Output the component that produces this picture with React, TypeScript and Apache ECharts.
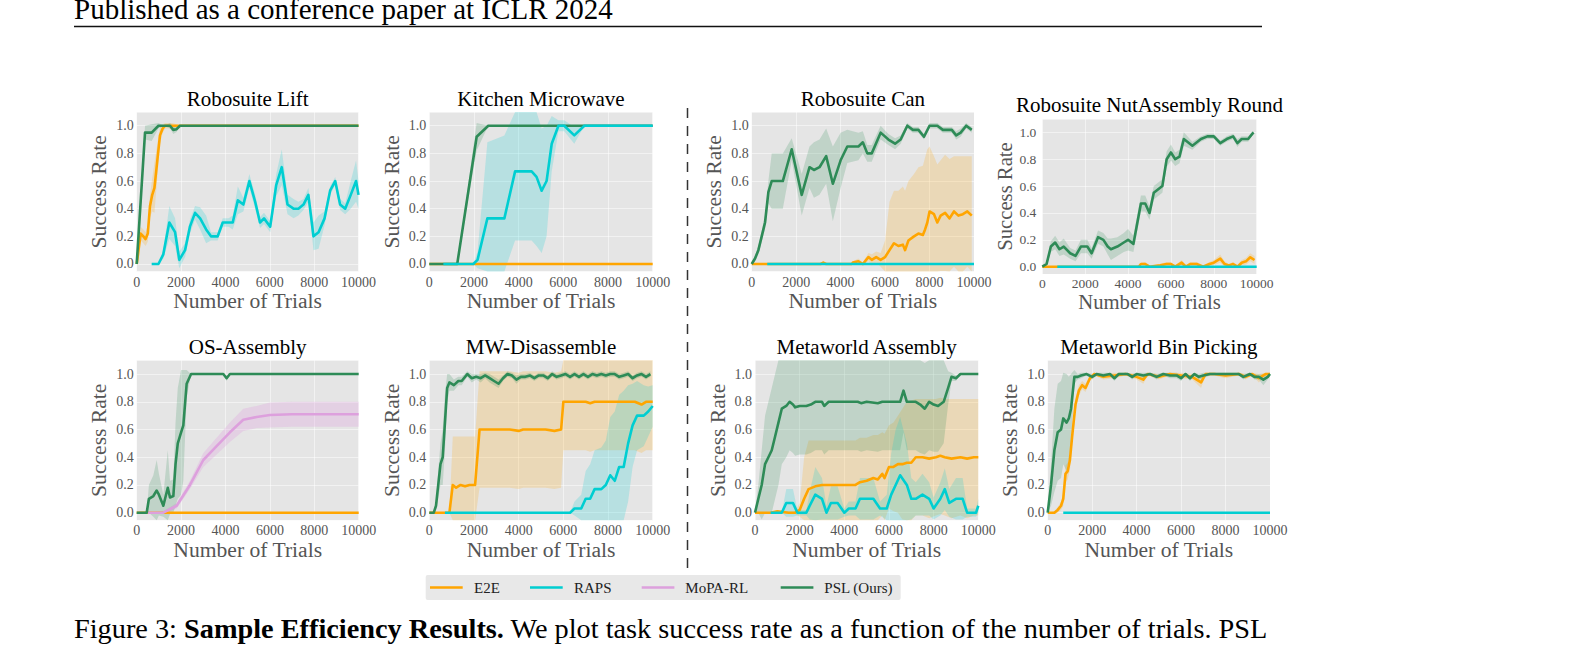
import { useEffect, useRef } from "react";
import * as echarts from "echarts";

// [trials, mean success rate, std across seeds]
type Pt = [number, number, number];

const PANEL_TITLES = [
  "Robosuite Lift",
  "Kitchen Microwave",
  "Robosuite Can",
  "Robosuite NutAssembly Round",
  "OS-Assembly",
  "MW-Disassemble",
  "Metaworld Assembly",
  "Metaworld Bin Picking",
];
const X_NAME = "Number of Trials";
const Y_NAME = "Success Rate";
const X_MIN = 0;
const X_MAX = 10000;
const X_STEP = 2000;
const Y_MIN = -0.055;
const Y_MAX = 1.1;

const METHODS = ["E2E", "RAPS", "MoPA-RL", "PSL (Ours)"];
const METHOD_COLORS: Record<string, string> = {
  E2E: "#FFA500",
  RAPS: "#00CED1",
  "MoPA-RL": "#DDA0DD",
  "PSL (Ours)": "#2E8B57",
};
const BAND_COLORS: Record<string, string> = {
  E2E: "rgba(255,165,0,0.2)",
  RAPS: "rgba(0,206,209,0.2)",
  "MoPA-RL": "rgba(221,160,221,0.3)",
  "PSL (Ours)": "rgba(46,139,87,0.2)",
};
// painting order inside each panel
const DRAW_ORDER = ["E2E", "MoPA-RL", "PSL (Ours)", "RAPS"];

// ---------- Robosuite Lift ----------
const LIFT_E2E: Pt[] = [
  [0, 0, 0], [180, 0.22, 0.05], [300, 0.2, 0.05], [400, 0.18, 0.05], [500, 0.22, 0.06],
  [600, 0.42, 0.08], [700, 0.5, 0.12], [800, 0.55, 0.18], [930, 0.75, 0.12], [1050, 0.93, 0.06],
  [1170, 0.98, 0.03], [1280, 1, 0.02], [1600, 1, 0.02], [2000, 1, 0], [10000, 1, 0],
];
const LIFT_RAPS: Pt[] = [
  [675, 0, 0], [980, 0, 0], [1200, 0.07, 0.03], [1470, 0.3, 0.12], [1730, 0.23, 0.1],
  [1920, 0.03, 0.06], [2180, 0.1, 0.05], [2400, 0.27, 0.05], [2630, 0.37, 0.05], [2860, 0.33, 0.08],
  [3130, 0.25, 0.1], [3350, 0.2, 0.03], [3650, 0.2, 0.03], [3880, 0.3, 0.03], [4140, 0.3, 0.03],
  [4330, 0.3, 0.05], [4560, 0.46, 0.1], [4810, 0.43, 0.05], [5080, 0.6, 0.05], [5340, 0.45, 0.05],
  [5560, 0.3, 0.04], [5740, 0.33, 0.04], [6020, 0.27, 0.04], [6290, 0.57, 0.08], [6540, 0.7, 0.13],
  [6800, 0.43, 0.07], [7070, 0.4, 0.07], [7290, 0.4, 0.05], [7520, 0.43, 0.04], [7740, 0.5, 0.05],
  [7970, 0.2, 0.1], [8200, 0.23, 0.12], [8470, 0.33, 0.05], [8720, 0.53, 0.03], [8950, 0.6, 0.03],
  [9170, 0.43, 0.04], [9400, 0.4, 0.04], [9650, 0.5, 0.1], [9890, 0.6, 0.15], [10000, 0.5, 0.1],
];
const LIFT_PSL: Pt[] = [
  [0, 0, 0], [375, 0.95, 0.05], [675, 0.95, 0.06], [980, 1, 0.02], [1250, 1, 0],
  [1500, 1, 0.02], [1650, 0.97, 0.03], [1800, 0.975, 0.02], [1950, 1, 0], [10000, 1, 0],
];

// ---------- Kitchen Microwave ----------
const KM_E2E: Pt[] = [[0, 0, 0], [10000, 0, 0]];
const KM_RAPS: Pt[] = [
  [630, 0, 0], [1970, 0, 0], [2160, 0.03, 0.06], [2600, 0.33, 0.55], [3360, 0.33, 0.6],
  [3840, 0.67, 0.5], [4580, 0.67, 0.5], [4800, 0.63, 0.5], [5030, 0.53, 0.45], [5250, 0.6, 0.4],
  [5480, 0.87, 0.2], [5780, 1, 0.04], [6040, 1, 0.04], [6490, 0.93, 0.06], [6940, 1, 0], [10000, 1, 0],
];
const KM_PSL: Pt[] = [[0, 0, 0], [1250, 0, 0], [2120, 0.92, 0.1], [2640, 1, 0], [10000, 1, 0]];

// ---------- Robosuite Can ----------
const CAN_E2E: Pt[] = [
  [0, 0, 0], [700, 0, 0], [3100, 0, 0], [3220, 0.01, 0.01], [3350, 0, 0], [4500, 0, 0],
  [4550, 0.01, 0.01], [4800, 0.02, 0.02], [5000, 0, 0.01], [5250, 0.05, 0.03], [5400, 0.03, 0.04],
  [5600, 0.05, 0.04], [5800, 0.03, 0.05], [6000, 0.05, 0.12], [6200, 0.1, 0.35], [6400, 0.15, 0.38],
  [6600, 0.13, 0.4], [6800, 0.14, 0.42], [6900, 0.1, 0.43], [7050, 0.17, 0.43], [7300, 0.2, 0.45],
  [7500, 0.22, 0.48], [7700, 0.21, 0.5], [7800, 0.25, 0.52], [7900, 0.3, 0.53], [8000, 0.38, 0.47],
  [8200, 0.36, 0.42], [8350, 0.3, 0.42], [8500, 0.35, 0.4], [8700, 0.37, 0.42], [8900, 0.33, 0.43],
  [9100, 0.38, 0.4], [9300, 0.35, 0.43], [9500, 0.36, 0.42], [9700, 0.38, 0.4], [9900, 0.35, 0.43],
];
const CAN_RAPS: Pt[] = [[700, 0, 0], [10000, 0, 0]];
const CAN_PSL: Pt[] = [
  [0, 0, 0], [150, 0.04, 0.02], [300, 0.1, 0.03], [450, 0.2, 0.04], [600, 0.3, 0.05],
  [750, 0.52, 0.08], [900, 0.6, 0.2], [1400, 0.6, 0.2], [1800, 0.83, 0.08], [2250, 0.5, 0.15],
  [2600, 0.7, 0.15], [2800, 0.68, 0.2], [3050, 0.7, 0.2], [3350, 0.78, 0.2], [3650, 0.58, 0.27],
  [4000, 0.75, 0.2], [4300, 0.85, 0.12], [4800, 0.85, 0.1], [5000, 0.88, 0.08], [5200, 0.8, 0.06],
  [5400, 0.8, 0.06], [5800, 0.95, 0.05], [6150, 0.9, 0.04], [6450, 0.87, 0.04], [6700, 0.9, 0.03],
  [7000, 1, 0.02], [7250, 0.97, 0.02], [7500, 0.97, 0.02], [7750, 0.92, 0.02], [8000, 1, 0.02],
  [8350, 1, 0.02], [8600, 0.97, 0.02], [9000, 0.97, 0.02], [9200, 0.93, 0.03], [9400, 0.95, 0.03],
  [9650, 1, 0.02], [9900, 0.97, 0.02],
];

// ---------- Robosuite NutAssembly Round ----------
const NUT_E2E: Pt[] = [
  [0, 0, 0], [700, 0, 0], [4500, 0, 0], [4600, 0.02, 0.01], [4800, 0.02, 0.015], [5000, 0, 0.01],
  [5500, 0.01, 0.01], [5800, 0.02, 0.015], [6000, 0.02, 0.015], [6200, 0, 0.01], [6500, 0.03, 0.02],
  [6700, 0, 0.01], [6900, 0.02, 0.015], [7200, 0.02, 0.015], [7500, 0, 0.01], [7800, 0.02, 0.015],
  [8000, 0.03, 0.02], [8300, 0.06, 0.03], [8500, 0.02, 0.02], [8700, 0.01, 0.01], [8900, 0.02, 0.015],
  [9100, 0, 0.01], [9300, 0.03, 0.02], [9500, 0.04, 0.025], [9700, 0.07, 0.03], [9900, 0.05, 0.03],
];
const NUT_RAPS: Pt[] = [[700, 0, 0], [10000, 0, 0]];
const NUT_PSL: Pt[] = [
  [0, 0, 0], [200, 0.02, 0.02], [400, 0.15, 0.04], [600, 0.18, 0.05], [800, 0.13, 0.05],
  [1000, 0.15, 0.06], [1300, 0.1, 0.04], [1550, 0.08, 0.04], [1800, 0.15, 0.05], [2100, 0.15, 0.05],
  [2300, 0.1, 0.04], [2600, 0.22, 0.05], [2850, 0.2, 0.05], [3050, 0.15, 0.06], [3200, 0.13, 0.08],
  [3500, 0.15, 0.07], [3800, 0.18, 0.07], [4000, 0.2, 0.08], [4250, 0.17, 0.06], [4400, 0.3, 0.06],
  [4600, 0.47, 0.06], [4800, 0.47, 0.06], [5000, 0.4, 0.05], [5200, 0.55, 0.05], [5600, 0.6, 0.05],
  [5800, 0.8, 0.06], [6000, 0.85, 0.06], [6200, 0.8, 0.05], [6400, 0.82, 0.05], [6600, 0.95, 0.05],
  [7000, 0.9, 0.03], [7400, 0.95, 0.02], [7700, 0.97, 0.02], [8000, 0.97, 0.02], [8300, 0.92, 0.02],
  [8600, 0.95, 0.02], [8900, 0.97, 0.02], [9100, 0.92, 0.03], [9300, 0.95, 0.02], [9600, 0.95, 0.02],
  [9850, 1, 0.01],
];

// ---------- OS-Assembly ----------
const OS_E2E: Pt[] = [[0, 0, 0], [10000, 0, 0]];
const OS_MOPA: Pt[] = [
  [500, 0, 0], [1200, 0, 0.01], [1800, 0.05, 0.02], [2400, 0.2, 0.03], [3000, 0.38, 0.05],
  [3600, 0.48, 0.06], [4200, 0.58, 0.07], [4800, 0.67, 0.08], [5400, 0.69, 0.08], [6000, 0.705, 0.09],
  [7000, 0.71, 0.09], [10000, 0.71, 0.09],
];
const OS_PSL: Pt[] = [
  [0, 0, 0], [450, 0, 0], [550, 0.1, 0.1], [750, 0.12, 0.15], [900, 0.16, 0.22], [1000, 0.13, 0.15],
  [1200, 0.05, 0.08], [1400, 0.18, 0.27], [1500, 0.11, 0.12], [1650, 0.12, 0.12], [1750, 0.35, 0.3],
  [1850, 0.5, 0.4], [2000, 0.58, 0.45], [2100, 0.63, 0.4], [2250, 0.93, 0.1], [2450, 1, 0],
  [3900, 1, 0], [4050, 0.97, 0.02], [4200, 1, 0], [10000, 1, 0],
];

// ---------- MW-Disassemble ----------
const MWD_E2E: Pt[] = [
  [0, 0, 0], [900, 0, 0], [1050, 0.2, 0.35], [1200, 0.18, 0.37], [1400, 0.2, 0.35], [1600, 0.19, 0.36],
  [1800, 0.2, 0.35], [2050, 0.2, 0.35], [2250, 0.6, 0.42], [3000, 0.6, 0.42], [3600, 0.6, 0.42],
  [4000, 0.59, 0.42], [4200, 0.6, 0.42], [4800, 0.6, 0.42], [5200, 0.6, 0.42], [5600, 0.59, 0.42],
  [5900, 0.6, 0.42], [6000, 0.8, 0.35], [7000, 0.8, 0.35], [7200, 0.79, 0.35], [7400, 0.8, 0.35],
  [9200, 0.8, 0.35], [9500, 0.78, 0.35], [9700, 0.8, 0.35], [10000, 0.8, 0.35],
];
const MWD_RAPS: Pt[] = [
  [700, 0, 0], [6300, 0, 0], [6500, 0.03, 0.05], [6800, 0.03, 0.1], [7000, 0.1, 0.2], [7200, 0.1, 0.25],
  [7400, 0.17, 0.28], [7700, 0.17, 0.3], [7900, 0.2, 0.32], [8100, 0.27, 0.42], [8300, 0.23, 0.5],
  [8500, 0.33, 0.52], [8700, 0.33, 0.55], [8900, 0.5, 0.42], [9100, 0.63, 0.3], [9300, 0.7, 0.25],
  [9600, 0.7, 0.22], [9800, 0.73, 0.18], [10000, 0.77, 0.15],
];
const MWD_PSL: Pt[] = [
  [0, 0, 0], [200, 0, 0], [300, 0.05, 0.03], [400, 0.2, 0.1], [500, 0.35, 0.15], [600, 0.4, 0.2],
  [700, 0.65, 0.2], [800, 0.9, 0.1], [900, 0.94, 0.06], [1100, 0.92, 0.04], [1300, 0.95, 0.03],
  [1450, 0.95, 0.03], [1700, 1, 0.02], [1900, 0.97, 0.03], [2100, 0.98, 0.02], [2300, 0.97, 0.03],
  [2500, 0.99, 0.02], [2700, 0.97, 0.03], [2900, 0.95, 0.03], [3100, 0.93, 0.03], [3300, 0.97, 0.02],
  [3500, 1, 0.02], [3700, 0.99, 0.02], [3900, 0.96, 0.03], [4100, 0.98, 0.02], [4300, 0.98, 0.02],
  [4500, 0.99, 0.02], [4700, 0.97, 0.02], [4900, 0.99, 0.02], [5100, 0.99, 0.02], [5300, 0.97, 0.02],
  [5500, 1, 0.02], [5700, 0.98, 0.02], [5900, 0.99, 0.02], [6100, 1, 0.02], [6300, 0.98, 0.02],
  [6500, 1, 0.02], [6700, 0.98, 0.02], [6900, 1, 0.02], [7100, 0.98, 0.02], [7300, 1, 0.02],
  [7500, 0.99, 0.02], [7700, 1, 0.02], [7900, 0.99, 0.02], [8100, 1, 0.02], [8300, 1, 0.02],
  [8500, 0.98, 0.02], [8700, 0.99, 0.02], [8900, 1, 0.02], [9100, 0.97, 0.02], [9300, 0.99, 0.02],
  [9500, 1, 0.02], [9700, 0.98, 0.02], [9900, 1, 0.02],
];

// ---------- Metaworld Assembly ----------
const MWA_E2E: Pt[] = [
  [0, 0, 0], [700, 0, 0], [1000, 0.01, 0.01], [1500, 0, 0.01], [1800, 0, 0.01], [2000, 0.02, 0.05],
  [2200, 0.1, 0.3], [2400, 0.17, 0.35], [2700, 0.19, 0.33], [3000, 0.2, 0.32], [3500, 0.2, 0.32],
  [4200, 0.2, 0.32], [4500, 0.2, 0.32], [4700, 0.22, 0.32], [5000, 0.23, 0.31], [5300, 0.25, 0.31],
  [5500, 0.24, 0.32], [5700, 0.28, 0.3], [5800, 0.25, 0.32], [6000, 0.33, 0.3], [6200, 0.33, 0.32],
  [6400, 0.35, 0.35], [6600, 0.35, 0.4], [6800, 0.36, 0.44], [7000, 0.36, 0.45], [7200, 0.4, 0.42],
  [7500, 0.4, 0.42], [7800, 0.39, 0.43], [8100, 0.4, 0.42], [8300, 0.41, 0.42], [8500, 0.4, 0.42],
  [8800, 0.39, 0.43], [9200, 0.4, 0.42], [9500, 0.39, 0.43], [9800, 0.4, 0.42], [10000, 0.4, 0.42],
];
const MWA_RAPS: Pt[] = [
  [700, 0, 0], [1200, 0, 0], [1400, 0.07, 0.1], [1700, 0.07, 0.1], [1900, 0, 0.02], [2300, 0, 0.02],
  [2450, 0.05, 0.1], [2700, 0.13, 0.2], [3000, 0.1, 0.15], [3200, 0, 0.05], [3400, 0.07, 0.12],
  [3700, 0.07, 0.12], [4000, 0, 0.03], [4200, 0.03, 0.05], [4500, 0.03, 0.05], [4700, 0.1, 0.15],
  [5300, 0.1, 0.15], [5600, 0.03, 0.05], [5900, 0.03, 0.1], [6100, 0.13, 0.3], [6300, 0.2, 0.4],
  [6500, 0.27, 0.42], [6800, 0.2, 0.3], [7000, 0.1, 0.15], [7200, 0.1, 0.12], [7500, 0.13, 0.15],
  [7800, 0.1, 0.12], [8000, 0.03, 0.08], [8300, 0.1, 0.12], [8500, 0.17, 0.15], [8700, 0.07, 0.1],
  [9000, 0.1, 0.15], [9300, 0.1, 0.15], [9500, 0, 0.03], [9900, 0, 0.03], [10000, 0.05, 0.05],
];
const MWA_PSL: Pt[] = [
  [0, 0, 0], [150, 0.1, 0.1], [300, 0.2, 0.25], [450, 0.35, 0.35], [600, 0.4, 0.4], [750, 0.45, 0.45],
  [900, 0.55, 0.45], [1050, 0.65, 0.45], [1200, 0.75, 0.4], [1400, 0.77, 0.37], [1550, 0.8, 0.35],
  [1700, 0.78, 0.35], [1800, 0.76, 0.35], [2000, 0.77, 0.35], [2300, 0.77, 0.35], [2500, 0.78, 0.35],
  [2700, 0.8, 0.35], [3000, 0.8, 0.35], [3100, 0.77, 0.35], [3300, 0.8, 0.35], [4600, 0.8, 0.35],
  [4750, 0.79, 0.35], [5000, 0.8, 0.35], [5500, 0.79, 0.35], [5700, 0.8, 0.35], [6300, 0.8, 0.35],
  [6500, 0.8, 0.35], [6650, 0.88, 0.3], [6800, 0.8, 0.35], [7200, 0.8, 0.35], [7400, 0.78, 0.35],
  [7600, 0.75, 0.33], [7800, 0.8, 0.35], [8000, 0.78, 0.34], [8200, 0.77, 0.33], [8450, 0.8, 0.3],
  [8650, 0.9, 0.12], [8800, 0.98, 0.03], [9000, 0.97, 0.02], [9200, 1, 0], [10000, 1, 0],
];

// ---------- Metaworld Bin Picking ----------
const BP_E2E: Pt[] = [
  [0, 0, 0], [300, 0, 0.01], [450, 0.02, 0.02], [600, 0.05, 0.03], [700, 0.1, 0.05], [800, 0.28, 0.06],
  [900, 0.3, 0.06], [1000, 0.38, 0.07], [1100, 0.55, 0.06], [1250, 0.78, 0.05], [1400, 0.88, 0.04],
  [1550, 0.92, 0.03], [1700, 0.9, 0.03], [1900, 0.97, 0.02], [2100, 1, 0.01], [2500, 0.98, 0.02],
  [3000, 0.99, 0.02], [3500, 1, 0.01], [4000, 0.98, 0.02], [4300, 0.96, 0.03], [4500, 1, 0.01],
  [5000, 0.98, 0.02], [5500, 1, 0.01], [6000, 0.99, 0.02], [6500, 0.98, 0.02], [6900, 0.94, 0.04],
  [7100, 1, 0.01], [7500, 1, 0.01], [8000, 0.99, 0.02], [8600, 1, 0.01], [8900, 0.98, 0.02],
  [9200, 1, 0.01], [9500, 0.97, 0.03], [9800, 1, 0.01], [10000, 1, 0.01],
];
const BP_RAPS: Pt[] = [[700, 0, 0], [10000, 0, 0]];
const BP_PSL: Pt[] = [
  [0, 0, 0], [150, 0.2, 0.15], [300, 0.45, 0.3], [450, 0.58, 0.35], [600, 0.6, 0.35], [700, 0.68, 0.33],
  [850, 0.65, 0.35], [950, 0.68, 0.3], [1050, 0.75, 0.25], [1200, 0.98, 0.05], [1350, 0.98, 0.02],
  [1500, 0.99, 0.02], [1750, 1, 0.01], [2000, 0.98, 0.02], [2200, 1, 0.01], [2500, 0.99, 0.02],
  [2800, 1, 0.01], [3000, 0.97, 0.02], [3200, 1, 0.01], [3600, 1, 0.01], [3800, 0.98, 0.02],
  [4000, 1, 0.01], [4300, 0.99, 0.02], [4600, 1, 0.01], [4900, 0.98, 0.02], [5200, 1, 0.01],
  [5500, 0.99, 0.02], [5800, 0.99, 0.02], [6000, 0.97, 0.02], [6200, 1, 0.01], [6400, 0.97, 0.02],
  [6600, 1, 0.01], [6800, 0.98, 0.02], [7000, 0.99, 0.02], [7300, 1, 0.01], [7700, 1, 0.01],
  [8000, 1, 0.01], [8300, 1, 0.01], [8600, 1, 0.01], [8800, 0.98, 0.02], [9100, 1, 0.01],
  [9300, 0.98, 0.02], [9500, 0.98, 0.02], [9700, 0.96, 0.04], [9900, 0.98, 0.02], [10000, 1, 0.01],
];

const PANEL_SERIES: Record<string, Pt[]>[] = [
  { E2E: LIFT_E2E, RAPS: LIFT_RAPS, "PSL (Ours)": LIFT_PSL },
  { E2E: KM_E2E, RAPS: KM_RAPS, "PSL (Ours)": KM_PSL },
  { E2E: CAN_E2E, RAPS: CAN_RAPS, "PSL (Ours)": CAN_PSL },
  { E2E: NUT_E2E, RAPS: NUT_RAPS, "PSL (Ours)": NUT_PSL },
  { E2E: OS_E2E, "MoPA-RL": OS_MOPA, "PSL (Ours)": OS_PSL },
  { E2E: MWD_E2E, RAPS: MWD_RAPS, "PSL (Ours)": MWD_PSL },
  { E2E: MWA_E2E, RAPS: MWA_RAPS, "PSL (Ours)": MWA_PSL },
  { E2E: BP_E2E, RAPS: BP_RAPS, "PSL (Ours)": BP_PSL },
];

const HEADER_TEXT = "Published as a conference paper at ICLR 2024";
const CAPTION_LEAD = "Figure 3: ";
const CAPTION_BOLD = "Sample Efficiency Results.";
const CAPTION_REST = " We plot task success rate as a function of the number of trials. PSL";

// ---------- layout (pixels) ----------
const W = 1585;
const H = 651;
const SERIF = "'Liberation Serif', 'Times New Roman', serif";
const GRID_RECTS = [
  { left: 136.7, top: 111.9, width: 221.8, height: 159.7 },
  { left: 429.3, top: 111.9, width: 223.4, height: 159.7 },
  { left: 751.7, top: 111.9, width: 222.3, height: 159.7 },
  { left: 1042.3, top: 118.9, width: 214.4, height: 155.2 },
  { left: 136.7, top: 360.2, width: 222.0, height: 160.1 },
  { left: 429.3, top: 360.2, width: 223.4, height: 160.1 },
  { left: 755.0, top: 360.2, width: 223.3, height: 160.1 },
  { left: 1047.7, top: 360.2, width: 222.3, height: 160.1 },
];
const TITLE_TOPS = [88.1, 88.1, 88.1, 94.7, 336.7, 336.7, 336.7, 336.7];
const LEGEND_BOX = { x: 425.7, y: 575, width: 475, height: 25 };
const LEGEND_LINE_X = [430, 530, 641.7, 780.7];
const LEGEND_TEXT_X = [474, 574, 685.3, 824.3];
const LEGEND_LINE_LEN = 32.7;

function bandSeries(pts: Pt[], fill: string, idx: number) {
  return {
    type: "custom",
    xAxisIndex: idx,
    yAxisIndex: idx,
    silent: true,
    z: 1,
    data: [[pts[0][0], pts[0][1]]],
    renderItem: (params: any, api: any) => {
      const upper = pts.map((p) => api.coord([p[0], p[1] + p[2]]));
      const lower = pts.map((p) => api.coord([p[0], p[1] - p[2]])).reverse();
      const cs = params.coordSys;
      const poly = echarts.graphic.clipPointsByRect(upper.concat(lower), {
        x: cs.x,
        y: cs.y,
        width: cs.width,
        height: cs.height,
      });
      return { type: "polygon", shape: { points: poly }, style: { fill, stroke: "none" } };
    },
  };
}

function lineSeries(name: string, pts: Pt[], idx: number) {
  return {
    type: "line",
    name,
    xAxisIndex: idx,
    yAxisIndex: idx,
    data: pts.map((p) => [p[0], p[1]]),
    showSymbol: false,
    symbol: "none",
    silent: true,
    z: 3,
    lineStyle: { color: METHOD_COLORS[name], width: 2.6, join: "round" },
    itemStyle: { color: METHOD_COLORS[name] },
  };
}

function buildOption() {
  const grids = GRID_RECTS.map((r) => ({
    ...r,
    show: true,
    backgroundColor: "#e5e5e5",
    borderWidth: 0,
    containLabel: false,
    outerBoundsMode: "none",
  }));

  const tickStyle = (small: boolean) => ({
    fontFamily: SERIF,
    fontSize: small ? 13.5 : 14,
    color: "#555",
  });
  const nameStyle = (small: boolean) => ({
    fontFamily: SERIF,
    fontSize: small ? 20.7 : 21.6,
    color: "#555",
  });

  const xAxes = GRID_RECTS.map((_, i) => ({
    type: "value",
    gridIndex: i,
    min: X_MIN,
    max: X_MAX,
    interval: X_STEP,
    name: X_NAME,
    nameLocation: "middle",
    nameGap: i === 3 ? 15 : 18,
    nameTextStyle: nameStyle(i === 3),
    axisLine: { show: false },
    axisTick: { show: false },
    axisLabel: {
      ...tickStyle(i === 3),
      margin: i === 3 ? 2 : 3.5,
      formatter: (v: number) => String(Math.round(v)),
    },
    splitLine: { show: true, lineStyle: { color: "rgba(255,255,255,0.5)", width: 1 } },
  }));

  const yAxes = GRID_RECTS.map((_, i) => ({
    type: "value",
    gridIndex: i,
    min: Y_MIN,
    max: Y_MAX,
    splitNumber: 5,
    name: Y_NAME,
    nameLocation: "middle",
    nameGap: i === 3 ? 16 : 26.5,
    nameTextStyle: nameStyle(i === 3),
    axisLine: { show: false },
    axisTick: { show: false },
    axisLabel: {
      ...tickStyle(i === 3),
      margin: i === 3 ? 6 : 3,
      showMinLabel: false,
      showMaxLabel: false,
      formatter: (v: number) =>
        Math.abs(v * 5 - Math.round(v * 5)) < 1e-6 ? v.toFixed(1) : "",
    },
    splitLine: { show: true, lineStyle: { color: "rgba(255,255,255,0.5)", width: 1 } },
  }));

  const titles = PANEL_TITLES.map((t, i) => ({
    text: t,
    left: GRID_RECTS[i].left + GRID_RECTS[i].width / 2,
    top: TITLE_TOPS[i],
    textAlign: "center",
    padding: 0,
    textStyle: { fontFamily: SERIF, fontSize: 21, fontWeight: "normal", color: "#000" },
  }));

  const series: any[] = [];
  PANEL_SERIES.forEach((panel, i) => {
    DRAW_ORDER.forEach((m) => {
      if (panel[m]) series.push(bandSeries(panel[m], BAND_COLORS[m], i));
    });
  });
  PANEL_SERIES.forEach((panel, i) => {
    DRAW_ORDER.forEach((m) => {
      if (panel[m]) series.push(lineSeries(m, panel[m], i));
    });
  });

  const legendElems: any[] = [
    {
      type: "rect",
      shape: { ...LEGEND_BOX, r: 2 },
      style: { fill: "#e8e8e8", stroke: "none" },
    },
  ];
  METHODS.forEach((m, k) => {
    const cy = LEGEND_BOX.y + LEGEND_BOX.height / 2;
    legendElems.push({
      type: "line",
      shape: { x1: LEGEND_LINE_X[k], y1: cy, x2: LEGEND_LINE_X[k] + LEGEND_LINE_LEN, y2: cy },
      style: { stroke: METHOD_COLORS[m], lineWidth: 2.4 },
    });
    legendElems.push({
      type: "text",
      x: LEGEND_TEXT_X[k],
      y: cy,
      style: {
        text: m,
        fontFamily: SERIF,
        fontSize: 15,
        fill: "#222",
        align: "left",
        verticalAlign: "middle",
      },
    });
  });

  const graphic: any[] = [
    {
      type: "text",
      x: 74,
      y: 8.6,
      style: {
        text: HEADER_TEXT,
        fontFamily: SERIF,
        fontSize: 29,
        fill: "#000",
        align: "left",
        verticalAlign: "middle",
      },
    },
    {
      type: "line",
      shape: { x1: 74, y1: 26.5, x2: 1262, y2: 26.5 },
      style: { stroke: "#111", lineWidth: 1.4 },
    },
    {
      type: "line",
      shape: { x1: 687.5, y1: 108, x2: 687.5, y2: 568 },
      style: { stroke: "#333", lineWidth: 1.5, lineDash: [10, 8] },
    },
    ...legendElems,
    {
      type: "text",
      x: 74,
      y: 628,
      style: {
        text: `{r|${CAPTION_LEAD}}{b|${CAPTION_BOLD}}{r|${CAPTION_REST}}`,
        align: "left",
        verticalAlign: "middle",
        rich: {
          r: { fontFamily: SERIF, fontSize: 28.3, fill: "#000", color: "#000" },
          b: { fontFamily: SERIF, fontSize: 28.3, fontWeight: "bold", fill: "#000", color: "#000" },
        },
      },
    },
  ];

  return {
    animation: false,
    backgroundColor: "#ffffff",
    title: titles,
    grid: grids,
    xAxis: xAxes,
    yAxis: yAxes,
    series,
    graphic,
  };
}

export default function App() {
  const ref = useRef<HTMLDivElement>(null);

  useEffect(() => {
    document.body.style.margin = "0";
    if (!ref.current) return;
    const chart = echarts.init(ref.current, undefined, { renderer: "svg" });
    chart.setOption(buildOption() as any);
    return () => chart.dispose();
  }, []);

  return (
    <div
      ref={ref}
      style={{ position: "absolute", left: 0, top: 0, width: W, height: H, background: "#fff" }}
    />
  );
}
